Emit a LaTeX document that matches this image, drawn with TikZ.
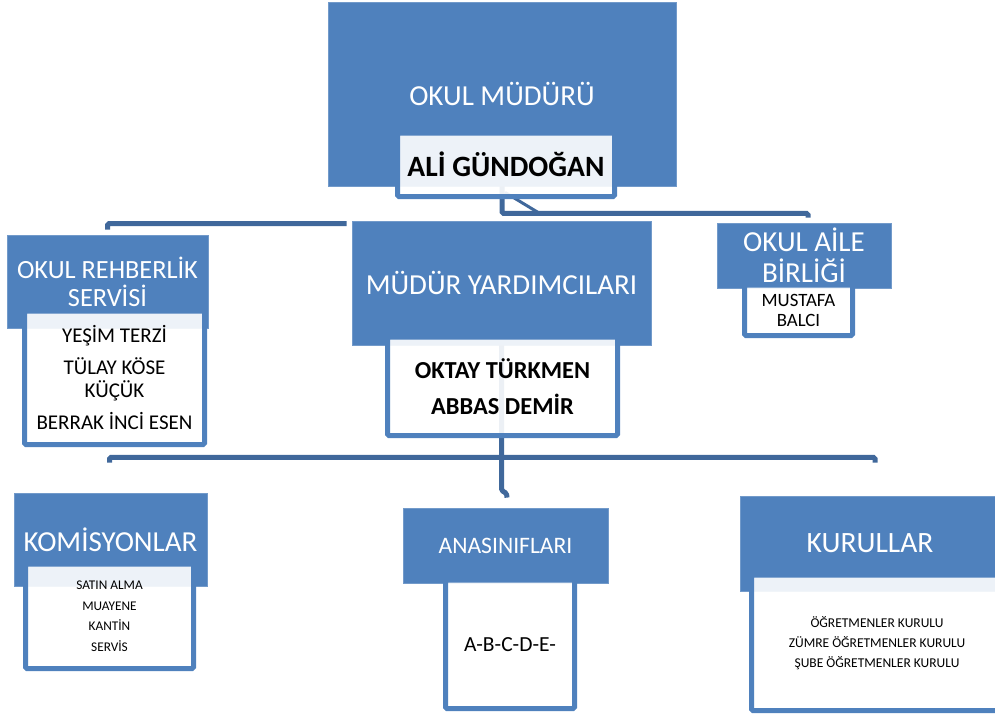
\documentclass[tikz,border=0pt]{standalone}
\usepackage{fontspec}
\setmainfont{Carlito}
\usetikzlibrary{calc}
\definecolor{headblue}{RGB}{79,129,189}
\definecolor{linkblue}{RGB}{64,104,155}
\newcommand{\orgfont}[2]{\fontsize{#1}{#2}\selectfont}
\tikzset{
  head/.style={fill=headblue,draw=headblue!80!white,line width=.8pt,
    text=white,inner sep=0pt,align=center},
  namebox/.style={draw=headblue,line width=5pt,fill=white,fill opacity=.9,
    text opacity=1,text=black,inner sep=0pt,align=center,rounded corners=1.5pt},
  link/.style={draw=linkblue,line width=5pt,rounded corners=1.5pt}
}

\begin{document}
\begin{tikzpicture}[x=1pt,y=-1pt]
\useasboundingbox (0,0) rectangle (995,715);
\foreach \n/\x/\y/\w/\h/\f/\t in {
  mudur/502/94/348/184/{\orgfont{29}{34}}/{OKUL MÜDÜRÜ},
  rehber/107.5/281.5/201/93/{\orgfont{26.3}{28}}/{OKUL REHBERLİK\\SERVİSİ},
  myard/501.5/283/299/124/{\orgfont{29}{34}}/{MÜDÜR YARDIMCILARI},
  aile/804/255.5/174/65/{\orgfont{29}{31}}/{OKUL AİLE\\BİRLİĞİ},
  komis/110.5/539.5/193/93/{\orgfont{29}{34}}/{KOMİSYONLAR},
  anasin/505.5/545.5/205/75/{\orgfont{23.6}{28}}/{ANASINIFLARI},
  kurul/870/543.5/260/95/{\orgfont{29.5}{34}}/{KURULLAR}}
  \node[head,font=\f,minimum width=\w pt,minimum height=\h pt] (\n) at (\x,\y) {\t};
\draw[link] (mudur.south) -- ++(0,27) -| ($(aile.north)+(4,-5)$);
\draw[link,line width=3pt] ($(mudur.south)+(3,6)$) -- ($(mudur.south)+(36,26)$);
\draw[link] ($(myard.north west)+(-5,3)$) -| ($(rehber.north)+(0,-5)$);
\draw[link] (myard.south) -- ++(0,145) -- ++(5,3) -- ($(anasin.north)+(1.5,-10)$);
\draw[link] ($(komis.north)+(-1,-30)$) |- ($(myard.south)+(0,112)$)
  -| ($(kurul.north)+(5,-33)$);
\foreach \n/\x/\y/\w/\h/\f/\t in {
  ali/506/164.75/217/63.5/{\orgfont{29.5}{34}\bfseries}/{ALİ GÜNDOĞAN},
  rnames/114.5/377.75/180/133.5/{\orgfont{21}{23}}/{YEŞİM TERZİ\\[9pt]TÜLAY KÖSE\\KÜÇÜK\\[9pt]BERRAK İNCİ ESEN},
  mynames/502.5/386.25/230/98.5/{\orgfont{24.4}{36}\bfseries}/{OKTAY TÜRKMEN\\ABBAS DEMİR},
  ainames/798.5/310.25/108/50.5/{\orgfont{18.8}{20}}/{MUSTAFA\\BALCI},
  knames/109.5/616.25/168/104.5/{\orgfont{13.3}{20.5}}/{SATIN ALMA\\MUAYENE\\KANTİN\\SERVİS},
  anames/510/644.25/129/128.5/{\orgfont{21.5}{24}}/{A-B-C-D-E-},
  kunames/877/642.75/251/135.5/{\orgfont{13.5}{20}}/{ÖĞRETMENLER KURULU\\ZÜMRE ÖĞRETMENLER KURULU\\ŞUBE ÖĞRETMENLER KURULU}}
  \node[namebox,font=\f,minimum width=\w pt,minimum height=\h pt] (\n) at (\x,\y) {\t};
\end{tikzpicture}
\end{document}
